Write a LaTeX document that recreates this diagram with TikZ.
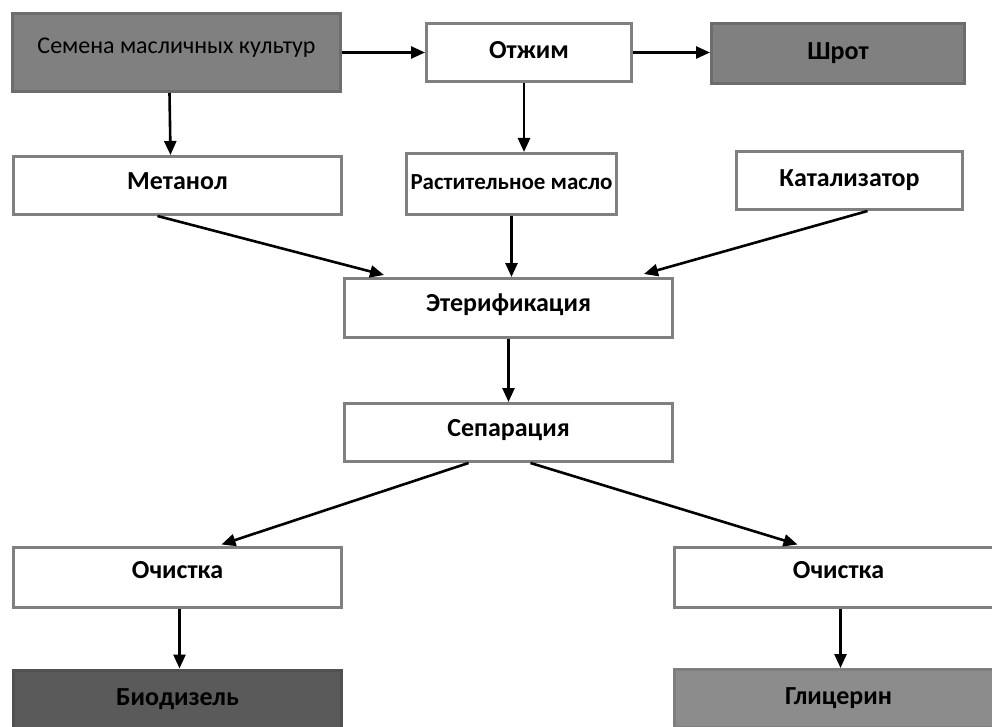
\documentclass[tikz,border=0pt]{standalone}
\usepackage{fontspec}
\setmainfont{Carlito}
\usepackage{xcolor}
\usetikzlibrary{arrows.meta,positioning}
\definecolor{boxgray}{RGB}{128,128,128}
\definecolor{mealgray}{RGB}{128,128,128}
\definecolor{dieselgray}{RGB}{90,90,90}
\definecolor{glyggray}{RGB}{140,140,140}

\begin{document}
\begin{tikzpicture}[x=1pt, y=-1pt,
    stage/.style={draw=boxgray, line width=3pt, minimum width=328pt, minimum height=58pt, inner sep=0pt, align=center, font=\fontsize{26}{30}\selectfont\bfseries, text height=17pt, text depth=5pt},
    product/.style={stage, fill=boxgray, draw=boxgray!85!black},
    flow/.style={-{Triangle[length=14pt, width=12pt]}, line width=2.6pt, black},
]
    \clip (0,0) rectangle (992,727);

    \node[product, minimum height=78pt, font=\fontsize{24}{28}\selectfont] (seeds) at (176.5,52.5) {\raisebox{5pt}{Семена масличных культур}};
    \node[stage, minimum width=205pt] (press) at (529,52.5) {Отжим};
    \node[product, fill=mealgray, minimum width=253pt, minimum height=60pt] (meal) at (838,53.5) {Шрот};

    \node[stage] (methanol) at (177.5,185.5) {\raisebox{2pt}{Метанол}};
    \node[stage, minimum width=210pt, minimum height=61pt, font=\fontsize{23}{27}\selectfont\bfseries] (oil) at (511.5,184) {Растительное масло};
    \node[stage, minimum width=226pt] (catalyst) at (849.5,180.5) {Катализатор};

    \node[stage, minimum height=59pt] (ester) at (508.5,308) {\raisebox{3pt}{Этерификация}};
    \node[stage] (separation) at (508.5,432.5) {\raisebox{2pt}{Сепарация}};

    \node[stage, minimum height=60pt] (cleanleft) at (177.5,577) {\raisebox{5pt}{Очистка}};
    \node[stage, minimum height=60pt] (cleanright) at (838.5,577) {\raisebox{5pt}{Очистка}};

    \node[product, fill=dieselgray, draw=dieselgray!90!black] (biodiesel) at (177.5,699) {Биодизель};
    \node[product, fill=glyggray, draw=glyggray!90!black] (glycerin) at (838.5,698.5) {Глицерин};

    \draw[flow] (seeds.east) -- (press.west);
    \draw[flow] (press.east) -- (press.east -| meal.west);
    \draw[flow] ([xshift=-7pt]seeds.south) -- ([xshift=-7pt]methanol.north);
    \draw[flow] ([xshift=-5pt]press.south) -- ([xshift=-5pt]press.south |- oil.north);
    \draw[flow] ([xshift=-20pt]methanol.south) -- ([xshift=41pt,yshift=2pt]ester.north west);
    \draw[flow] (oil.south) -- (oil.south |- ester.north);
    \draw[flow] ([xshift=18pt]catalyst.south) -- ([xshift=-30pt,yshift=3pt]ester.north east);
    \draw[flow] (ester.south) -- (separation.north);
    \draw[flow] ([xshift=-40pt]separation.south) -- ([xshift=44pt,yshift=1pt]cleanleft.north);
    \draw[flow] ([xshift=22pt]separation.south) -- ([xshift=-41pt,yshift=1pt]cleanright.north);
    \draw[flow] ([xshift=2pt]cleanleft.south) -- ([xshift=2pt]biodiesel.north);
    \draw[flow] ([xshift=2pt]cleanright.south) -- ([xshift=2pt]glycerin.north);
\end{tikzpicture}
\end{document}
